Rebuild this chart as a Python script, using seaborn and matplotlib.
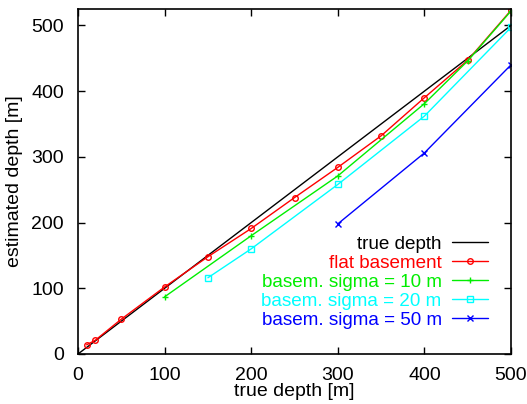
import matplotlib
matplotlib.use("Agg")
import matplotlib.pyplot as plt
import seaborn as sns
import pandas as pd

true_x = [0, 500]
true_y = [0, 500]

flat_x = [10, 20, 50, 100, 150, 200, 250, 300, 350, 400, 450, 500]
flat_y = [14, 21, 53, 102, 148, 191, 238, 284, 332, 390, 447, 523]

s10_x = [100, 200, 300, 400, 450, 500]
s10_y = [87, 180, 271, 381, 446, 522]

s20_x = [150, 200, 300, 400, 500]
s20_y = [116, 160, 258, 362, 497]

s50_x = [300, 400, 500]
s50_y = [198, 306, 440]

series = [
    ("true depth", true_x, true_y, "#000000", None, 0),
    ("flat basement", flat_x, flat_y, "#ff0000", "o", 4),
    ("basem. sigma = 10 m", s10_x, s10_y, "#00ee00", "+", 5),
    ("basem. sigma = 20 m", s20_x, s20_y, "#00ffff", "s", 5),
    ("basem. sigma = 50 m", s50_x, s50_y, "#0000ff", "x", 5),
]

sns.set_style("ticks")
plt.rcParams["font.family"] = ["Liberation Sans", "DejaVu Sans"]

fig = plt.figure(figsize=(5.27, 4.04), dpi=100)
ax = fig.add_axes([78/527, 50/404, 433/527, 345/404])

for label, xs, ys, color, marker, ms in series:
    df = pd.DataFrame({"x": xs, "y": ys})
    kw = {}
    if marker is not None:
        kw = dict(marker=marker, markersize=ms, markerfacecolor="none",
                  markeredgecolor=color, markeredgewidth=1.0)
    sns.lineplot(data=df, x="x", y="y", ax=ax, color=color, linewidth=1.0,
                 label=label, **kw)

ax.set_xlim(0, 500)
ax.set_ylim(0, 525)
ax.set_xticks([0, 100, 200, 300, 400, 500])
ax.set_yticks([0, 100, 200, 300, 400, 500])
ax.tick_params(direction="in", length=5, width=1, top=True, right=True,
               labelsize=14, colors="black")
ax.tick_params(axis="x", pad=9)
ax.tick_params(axis="y", pad=10)
for sp in ax.spines.values():
    sp.set_visible(True)
    sp.set_linewidth(1.2)
    sp.set_color("black")
ax.set_xlabel("true depth [m]", fontsize=14, labelpad=0, color="black")
ax.set_ylabel("estimated depth [m]", fontsize=14, labelpad=6, color="black")

leg = ax.legend(loc="lower right", bbox_to_anchor=((488-78)/433, (354-329)/345),
                frameon=False, markerfirst=False, fontsize=13.6, numpoints=1,
                handlelength=1.9, handletextpad=0.55, labelspacing=0.1,
                borderpad=0, borderaxespad=0, labelcolor="linecolor")

fig.savefig("out.png", dpi=100)
